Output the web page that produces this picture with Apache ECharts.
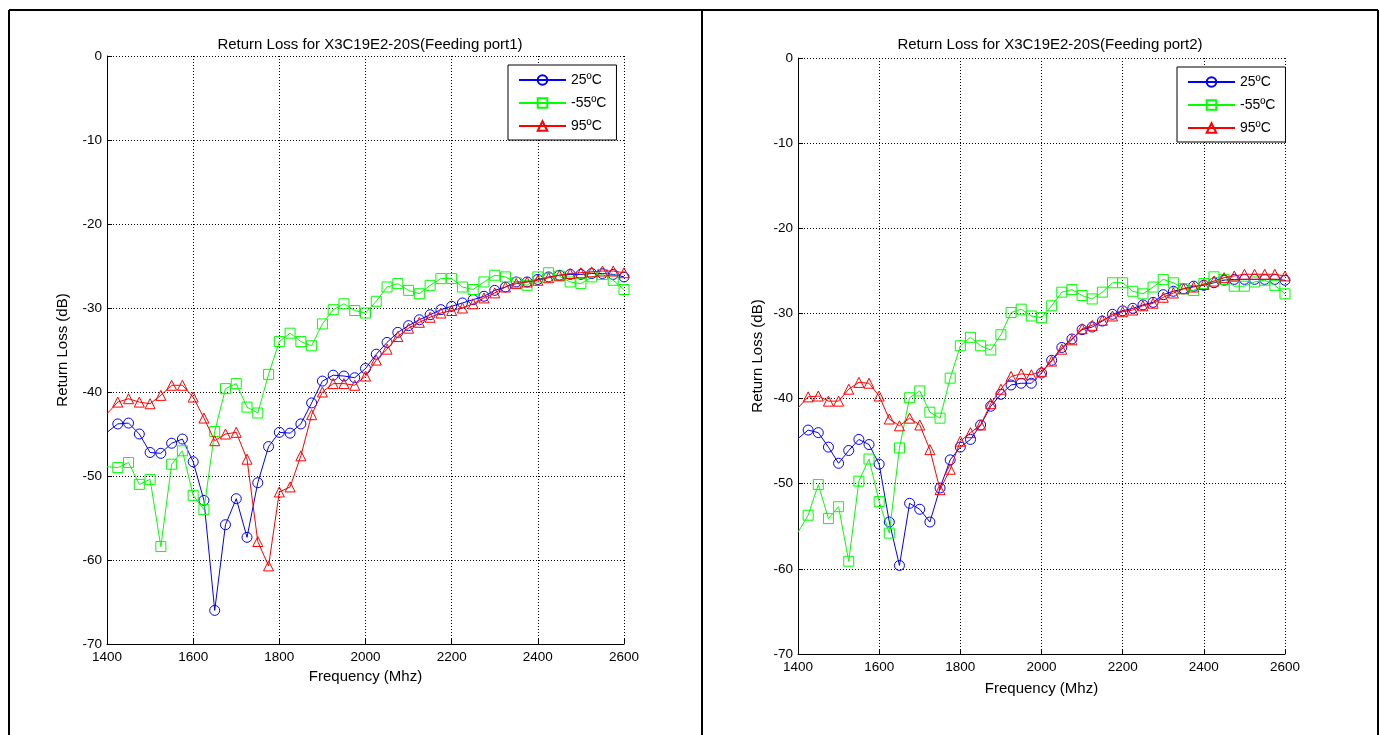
<!DOCTYPE html>
<html>
<head>
<meta charset="utf-8">
<script src="https://cdn.jsdelivr.net/npm/echarts@6/dist/echarts.min.js"></script>
<style>
html,body{margin:0;padding:0;background:#fff;}
#c{width:1380px;height:735px;}
</style>
</head>
<body>
<div id="c"></div>
<script>
// Frequency points (MHz)
const freqs = [1400,1425,1450,1475,1500,1525,1550,1575,1600,1625,1650,1675,1700,1725,1750,1775,1800,1825,1850,1875,1900,1925,1950,1975,2000,2025,2050,2075,2100,2125,2150,2175,2200,2225,2250,2275,2300,2325,2350,2375,2400,2425,2450,2475,2500,2525,2550,2575,2600];
const xTicks = [1400,1600,1800,2000,2200,2400,2600];
const yTicks = [0,-10,-20,-30,-40,-50,-60,-70];
const seriesNames = ['25ºC','-55ºC','95ºC'];
const titles = ['Return Loss for X3C19E2-20S(Feeding port1)','Return Loss for X3C19E2-20S(Feeding port2)'];
const xName = 'Frequency (Mhz)';
const yName = 'Return Loss (dB)';

// Port 1
const p1_25 = [-44.8,-43.8,-43.7,-45.0,-47.2,-47.3,-46.1,-45.6,-48.3,-52.9,-66.0,-55.8,-52.7,-57.3,-50.8,-46.5,-44.8,-44.9,-43.8,-41.3,-38.7,-38.0,-38.1,-38.3,-37.2,-35.5,-34.1,-32.9,-32.1,-31.4,-30.8,-30.2,-29.8,-29.4,-29.0,-28.6,-27.9,-27.5,-26.9,-26.9,-26.6,-26.3,-26.1,-26.0,-26.0,-25.9,-25.9,-26.0,-26.3];
const p1_m55 = [-48.9,-49.0,-48.4,-51.0,-50.4,-58.4,-48.6,-47.0,-52.3,-54.0,-44.7,-39.6,-39.0,-41.8,-42.5,-37.9,-34.0,-33.0,-34.0,-34.5,-31.9,-30.2,-29.5,-30.3,-30.6,-29.2,-27.5,-27.1,-27.9,-28.3,-27.3,-26.5,-26.5,-27.5,-27.8,-26.9,-26.1,-26.3,-27.0,-27.3,-26.3,-25.8,-26.2,-26.9,-27.1,-26.3,-26.0,-26.7,-27.8];
const p1_95 = [-42.6,-41.2,-40.8,-41.2,-41.4,-40.4,-39.2,-39.2,-40.6,-43.1,-45.8,-45.0,-44.8,-48.0,-57.8,-60.7,-51.9,-51.3,-47.6,-42.7,-40.0,-39.0,-39.0,-39.2,-38.1,-36.2,-34.9,-33.4,-32.4,-31.7,-31.1,-30.6,-30.3,-30.0,-29.5,-28.8,-28.2,-27.5,-27.1,-26.9,-26.7,-26.4,-26.1,-25.9,-25.8,-25.7,-25.6,-25.6,-25.8];
// Port 2
const p2_25 = [-44.7,-43.7,-44.0,-45.7,-47.6,-46.1,-44.8,-45.4,-47.7,-54.5,-59.6,-52.3,-53.0,-54.5,-50.5,-47.2,-45.7,-44.8,-43.1,-40.9,-39.5,-38.4,-38.2,-38.2,-37.0,-35.5,-34.0,-33.0,-31.9,-31.6,-30.9,-30.1,-29.7,-29.4,-29.0,-28.7,-27.8,-27.4,-27.1,-26.8,-26.7,-26.4,-26.1,-26.0,-26.0,-26.0,-26.0,-26.0,-26.1];
const p2_m55 = [-55.7,-53.7,-50.1,-54.1,-52.7,-59.1,-49.7,-47.1,-52.1,-55.8,-45.8,-39.9,-39.1,-41.6,-42.3,-37.6,-33.8,-32.8,-33.8,-34.3,-32.5,-29.9,-29.5,-30.3,-30.5,-29.1,-27.5,-27.2,-27.9,-28.3,-27.5,-26.4,-26.4,-27.4,-27.7,-26.9,-26.0,-26.4,-27.1,-27.3,-26.5,-25.7,-26.0,-26.8,-26.8,-26.3,-26.1,-26.7,-27.7];
const p2_95 = [-41.1,-39.8,-39.7,-40.3,-40.3,-38.9,-38.1,-38.2,-39.7,-42.4,-43.2,-42.3,-43.1,-46.0,-50.7,-48.3,-45.0,-44.0,-43.1,-40.6,-38.9,-37.4,-37.1,-37.2,-36.8,-35.6,-34.2,-33.1,-31.8,-31.4,-30.8,-30.3,-29.8,-29.6,-29.1,-28.8,-28.1,-27.6,-27.1,-26.9,-26.6,-26.2,-25.8,-25.6,-25.4,-25.4,-25.4,-25.4,-25.6];

const FONT = '"Liberation Sans", Arial, Helvetica, sans-serif';
const colors = ['#0000ff','#00ff00','#ff0000'];
const symbols = ['circle','rect','triangle'];

function pts(vals){
  return freqs.map((f,i)=> i===0 ? {value:[f,vals[i]], symbol:'none'} : [f,vals[i]]);
}
function mkSeries(vals, k, gi){
  return {
    type:'line', name:seriesNames[k], xAxisIndex:gi, yAxisIndex:gi,
    data:pts(vals), symbol:symbols[k], symbolSize:10, showAllSymbol:true,
    lineStyle:{color:colors[k], width:1},
    itemStyle:{color:'rgba(0,0,0,0)', borderColor:colors[k], borderWidth:1},
    emphasis:{disabled:true}, animation:false, z:3+k, clip:true
  };
}
const grids = [
  {left:107, top:56, width:517, height:588},
  {left:798, top:58, width:487, height:596}
];
function xAx(gi, gap){
  return {type:'value', gridIndex:gi, min:1400, max:2600, interval:200,
    name:xName, nameLocation:'middle', nameGap:gap,
    nameTextStyle:{fontFamily:FONT, fontSize:15, color:'#000'},
    axisLine:{show:true, onZero:false, lineStyle:{color:'#000', width:1}},
    axisTick:{show:true, inside:true, length:5, lineStyle:{color:'#000'}},
    axisLabel:{fontFamily:FONT, fontSize:13.5, color:'#000', margin:6,
      formatter:v=> xTicks.includes(v) ? String(v) : ''},
    splitLine:{show:true, lineStyle:{color:'#000', type:[1,2], width:1}}
  };
}
function yAx(gi, gap){
  return {type:'value', gridIndex:gi, min:-70, max:0, interval:10,
    name:yName, nameLocation:'middle', nameGap:gap, nameRotate:90,
    nameTextStyle:{fontFamily:FONT, fontSize:15, color:'#000'},
    axisLine:{show:true, onZero:false, lineStyle:{color:'#000', width:1}},
    axisTick:{show:true, inside:true, length:5, lineStyle:{color:'#000'}},
    axisLabel:{fontFamily:FONT, fontSize:13.5, color:'#000', margin:5,
      formatter:v=> yTicks.includes(v) ? String(v) : ''},
    splitLine:{show:true, lineStyle:{color:'#000', type:[1,2], width:1}}
  };
}
function legend(left, top){
  return {orient:'vertical', left:left, top:top, data:seriesNames,
    backgroundColor:'#fff', borderColor:'#000', borderWidth:1, borderRadius:0,
    padding:[8,10,7,10], itemWidth:47, itemHeight:12, itemGap:9,
    textStyle:{fontFamily:FONT, fontSize:14, color:'#000'},
    selectedMode:false, z:10};
}

const chart = echarts.init(document.getElementById('c'), null, {renderer:'canvas'});
chart.setOption({
  backgroundColor:'#fff',
  animation:false,
  title:[
    {text:titles[0], left:365, top:32, textAlign:'center',
     textStyle:{fontFamily:FONT, fontSize:15, fontWeight:'normal', color:'#000'}},
    {text:titles[1], left:1045, top:32, textAlign:'center',
     textStyle:{fontFamily:FONT, fontSize:15, fontWeight:'normal', color:'#000'}}
  ],
  legend:[legend(508,65), legend(1177,67)],
  grid:grids,
  xAxis:[xAx(0,25), xAx(1,27)],
  yAxis:[yAx(0,37), yAx(1,33)],
  series:[
    mkSeries(p1_25,0,0), mkSeries(p1_m55,1,0), mkSeries(p1_95,2,0),
    mkSeries(p2_25,0,1), mkSeries(p2_m55,1,1), mkSeries(p2_95,2,1)
  ],
  graphic:[
    {type:'line', shape:{x1:9, y1:10, x2:1378, y2:10}, style:{stroke:'#000', lineWidth:2}},
    {type:'line', shape:{x1:9, y1:10, x2:9, y2:740}, style:{stroke:'#000', lineWidth:2}},
    {type:'line', shape:{x1:702, y1:10, x2:702, y2:740}, style:{stroke:'#000', lineWidth:2}},
    {type:'line', shape:{x1:1378, y1:10, x2:1378, y2:740}, style:{stroke:'#000', lineWidth:2}}
  ]
});
</script>
</body>
</html>
